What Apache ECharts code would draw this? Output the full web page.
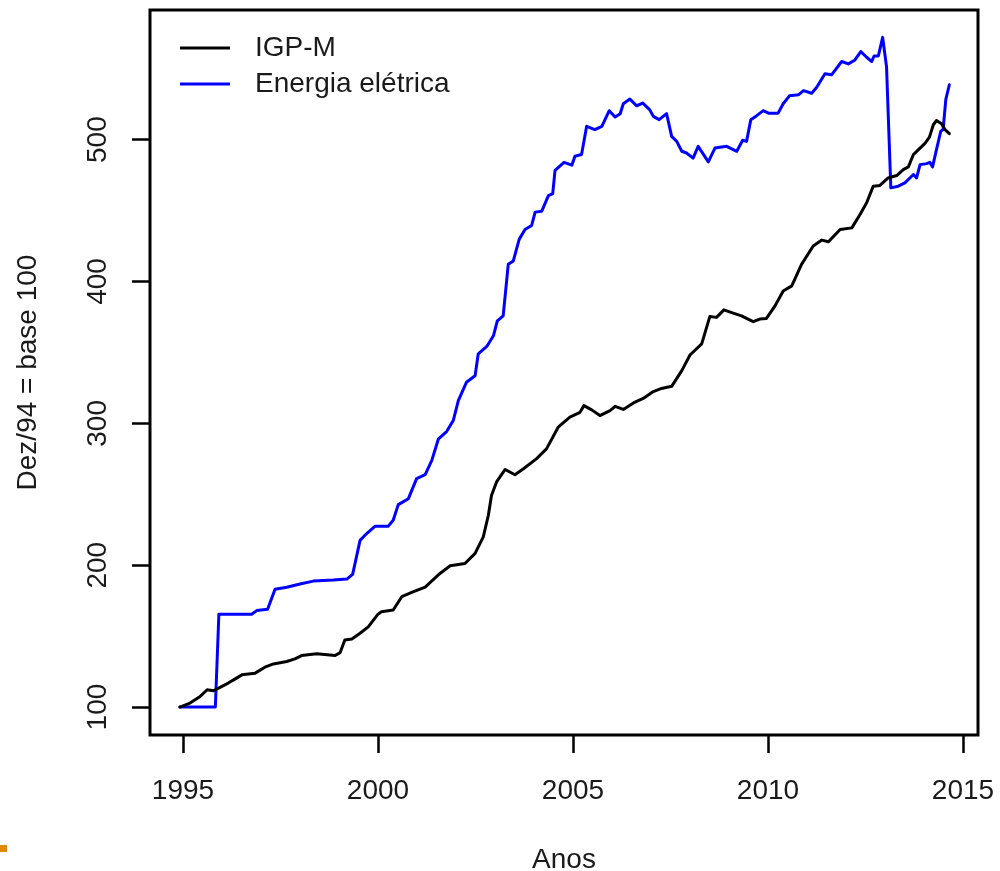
<!DOCTYPE html>
<html>
<head>
<meta charset="utf-8">
<script src="https://cdn.jsdelivr.net/npm/echarts@6/dist/echarts.min.js"></script>
<style>
html,body{margin:0;padding:0;background:#fff;}
#chart{width:1000px;height:871px;}
</style>
</head>
<body>
<div id="chart"></div>
<script>
// ---- data ----
const seriesNames = ['IGP-M', 'Energia elétrica'];
const xTicks = [1995, 2000, 2005, 2010, 2015];
const yTicks = [100, 200, 300, 400, 500];

const igpmYears = [1994.92,1995.18,1995.44,1995.62,1995.78,1995.95,1996.16,1996.33,1996.51,1996.85,
  1997.10,1997.32,1997.66,1997.87,1998.04,1998.43,1998.90,1999.03,1999.15,1999.33,
  1999.54,1999.75,2000.00,2000.09,2000.39,2000.61,2000.91,2001.21,2001.59,2001.85,
  2002.23,2002.49,2002.70,2002.83,2002.91,2003.04,2003.26,2003.51,2003.73,2004.06,
  2004.32,2004.62,2004.92,2005.18,2005.28,2005.48,2005.69,2005.95,2006.08,2006.29,
  2006.55,2006.80,2007.06,2007.27,2007.53,2007.79,2008.00,2008.30,2008.51,2008.68,
  2008.87,2009.07,2009.32,2009.62,2009.79,2009.96,2010.18,2010.39,2010.61,2010.86,
  2011.16,2011.38,2011.55,2011.85,2012.15,2012.36,2012.53,2012.70,2012.87,2013.08,
  2013.30,2013.47,2013.60,2013.73,2013.86,2014.03,2014.14,2014.24,2014.32,2014.45,
  2014.54,2014.65];
const igpmValues = [100,102.8,107.5,112.2,111.5,113.9,116.9,119.7,122.7,123.9,
  128.1,130.4,132.1,134,136.3,137.5,136.3,138.4,147.3,148,
  152,156.5,165.5,167.2,168.4,177.8,181.3,184.6,194.2,199.6,
  201.2,208.3,220,235.2,249.2,258.7,267.5,263.8,268,275,
  282,297.3,304.4,307.8,312.5,309.5,305.5,309,312,309.8,
  314.4,317.6,322.4,324.6,326.1,337.2,348.2,356,375.4,374.7,
  380,378.1,375.8,371.7,373.5,374,382.8,393.3,396.9,412.1,
  425,429.2,428,436.7,437.8,447.3,455.5,467.2,467.7,473,
  474.7,478.9,480.8,489.5,493,497.6,501.8,510.5,513.5,511.2,
  507,504.2];

const energyYears = [1994.92,1995.83,1995.92,1996.76,1996.89,1997.17,1997.36,1997.66,1998.00,1998.34,
  1998.85,1999.20,1999.35,1999.54,1999.71,1999.92,2000.26,2000.39,2000.52,2000.78,
  2000.99,2001.21,2001.38,2001.55,2001.76,2001.93,2002.06,2002.27,2002.49,2002.57,
  2002.79,2002.96,2003.06,2003.21,2003.34,2003.47,2003.62,2003.77,2003.94,2004.03,
  2004.20,2004.37,2004.48,2004.54,2004.77,2004.97,2005.05,2005.22,2005.35,2005.56,
  2005.74,2005.93,2006.08,2006.21,2006.29,2006.46,2006.63,2006.79,2006.97,2007.06,
  2007.21,2007.40,2007.53,2007.66,2007.79,2007.91,2008.08,2008.21,2008.47,2008.64,
  2008.94,2009.20,2009.35,2009.45,2009.56,2009.71,2009.88,2010.01,2010.26,2010.39,
  2010.55,2010.78,2010.91,2011.12,2011.25,2011.46,2011.63,2011.89,2012.06,2012.23,
  2012.38,2012.53,2012.66,2012.72,2012.83,2012.94,2013.04,2013.15,2013.34,2013.51,
  2013.73,2013.81,2013.90,2014.07,2014.15,2014.22,2014.32,2014.43,2014.49,2014.56,
  2014.65];
const energyValues = [100,100,165.4,165.4,168,169,183,184.5,186.7,188.8,
  189.5,190.2,193.5,217.5,222.3,227.4,227.4,231.7,242.7,246.9,
  261,263.8,273.9,289.1,294.2,302,316,329,333.6,348.9,
  354.2,361.7,372.3,375.8,412.1,414.5,429.7,436.7,439.5,448.9,
  449.6,460.6,462,478.4,484,482,488.3,489.5,509.4,507,
  509.4,520.4,515.9,518.3,525.3,528.6,523.9,525.8,521,516.4,
  514.1,518.3,502.3,498.8,491.8,490.6,487,495.3,484.3,494.1,
  495.3,491.8,499.6,498.8,514.1,516.9,520.5,518.7,518.7,525.3,
  530.9,531.6,534.6,532.7,537,546.4,545.7,555.1,553.4,556.2,
  562.1,558.1,555.1,559,559,572.1,551.3,466,467.2,469.5,
  475.4,473,482.4,483.1,484,480.8,493,505.9,507.1,528.4,
  538.7];

// ---- chart ----
const zip = (xs, ys) => xs.map((x, i) => [x, ys[i]]);
const FONT = '"Liberation Sans", Arial, Helvetica, sans-serif';
const TXT = '#1a1a1a';

const chart = echarts.init(document.getElementById('chart'), null, {renderer: 'canvas'});
chart.setOption({
  animation: false,
  backgroundColor: '#ffffff',
  grid: {
    left: 150, right: 22, top: 10, bottom: 136,
    containLabel: false, outerBoundsMode: 'none',
    show: true, borderColor: '#000', borderWidth: 3, backgroundColor: 'transparent'
  },
  legend: {
    orient: 'vertical',
    left: 175, top: 28,
    itemWidth: 50, itemHeight: 3,
    itemGap: 6,
    icon: 'rect',
    textStyle: {fontFamily: FONT, fontSize: 28, color: TXT, lineHeight: 30, padding: [0, 0, 0, 20]},
    data: seriesNames
  },
  xAxis: {
    type: 'value',
    min: 1994.154, max: 2015.385,
    name: 'Anos', nameLocation: 'middle', nameGap: 111,
    nameTextStyle: {fontFamily: FONT, fontSize: 28, color: TXT},
    splitLine: {show: false},
    axisLine: {show: false},
    axisTick: {show: true, inside: false, length: 18, customValues: xTicks,
      lineStyle: {color: '#000', width: 2.5}},
    axisLabel: {show: true, margin: 42, customValues: xTicks,
      fontFamily: FONT, fontSize: 28, color: TXT, formatter: v => String(v)}
  },
  yAxis: {
    type: 'value',
    min: 80.3, max: 591.4,
    name: 'Dez/94 = base 100', nameLocation: 'middle', nameGap: 108, nameRotate: 90,
    nameTextStyle: {fontFamily: FONT, fontSize: 28, color: TXT},
    splitLine: {show: false},
    axisLine: {show: false},
    axisTick: {show: true, inside: false, length: 18, customValues: yTicks,
      lineStyle: {color: '#000', width: 2.5}},
    axisLabel: {show: true, margin: 38, rotate: 90, customValues: yTicks,
      fontFamily: FONT, fontSize: 28, color: TXT, formatter: v => String(v)}
  },
  series: [
    {
      name: seriesNames[0], type: 'line', data: zip(igpmYears, igpmValues),
      showSymbol: false, symbol: 'none', smooth: false,
      itemStyle: {color: '#000000'},
      lineStyle: {color: '#000000', width: 3, join: 'round', cap: 'round'},
      z: 3
    },
    {
      name: seriesNames[1], type: 'line', data: zip(energyYears, energyValues),
      showSymbol: false, symbol: 'none', smooth: false,
      itemStyle: {color: '#0000ff'},
      lineStyle: {color: '#0000ff', width: 3, join: 'round', cap: 'round'},
      z: 2
    }
  ],
  graphic: [
    {type: 'rect', left: 0, top: 845, shape: {width: 7, height: 7}, style: {fill: '#e08a00'}}
  ]
});
</script>
</body>
</html>
